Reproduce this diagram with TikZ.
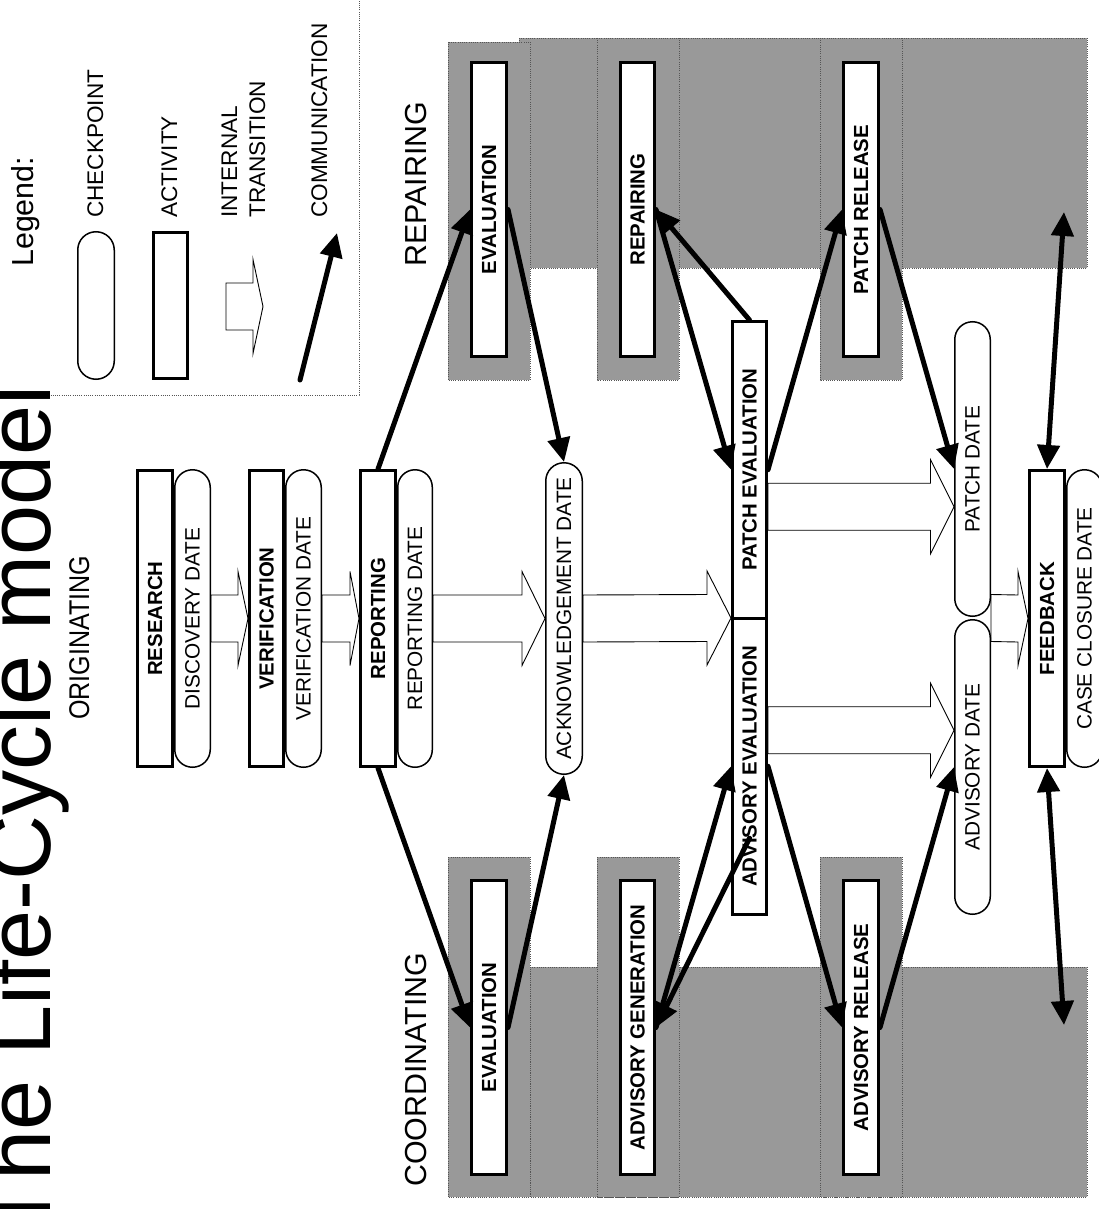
\documentclass[tikz,border=0pt]{standalone}
\usepackage{fontspec}
\setmainfont{Liberation Sans}
\newfontfamily\narrowsans[FakeStretch=0.88]{Liberation Sans}
\usetikzlibrary{arrows.meta,calc,shapes.misc}
\definecolor{lanegray}{HTML}{999999}
\definecolor{laneedge}{HTML}{555555}
\pgfdeclarelayer{lanes}
\pgfdeclarelayer{back}
\pgfsetlayers{lanes,back,main}
\tikzset{
  lane/.style={fill=lanegray, draw=laneedge, dash pattern=on 1pt off 1.2pt, line width=0.8pt},
  legendedge/.style={draw=laneedge, dash pattern=on 1pt off 1.2pt, line width=0.8pt},
  actbox/.style={draw, line width=3pt, fill=white, rotate=90, inner sep=0pt,
    minimum width=296pt, minimum height=35pt, font=\fontsize{20.4}{24}\selectfont\bfseries},
  chkbox/.style={rounded rectangle, draw, line width=1.5pt, fill=white, rotate=90, inner sep=0pt,
    minimum width=297.5pt, minimum height=35.5pt, font=\fontsize{20.8}{24}\selectfont},
  comm/.style={line width=5pt, line cap=round, -{Triangle[length=24pt,width=22pt]}},
  commboth/.style={line width=5pt, {Triangle[length=24pt,width=22pt]}-{Triangle[length=24pt,width=22pt]}},
  trans/.style={draw=black, line width=0.9pt, fill=white, line join=miter},
  lbl/.style={rotate=90, anchor=base west, inner sep=0pt},
  sectfont/.style={font=\fontsize{30.4}{34}\selectfont},
  legfont/.style={font=\fontsize{22.6}{26}\selectfont}
}
\newcommand\transarr[3]{%
  \draw[trans] ($(#1)+(0,-23.5)$) -- ($(#2)+(-#3,-23.5)$) -- ($(#2)+(-#3,-47)$) -- (#2)
   -- ($(#2)+(-#3,47)$) -- ($(#2)+(-#3,23.5)$) -- ($(#1)+(0,23.5)$) -- cycle;}
\begin{document}
\begin{tikzpicture}[x=1pt,y=-1pt]
\useasboundingbox (0,0) rectangle (1099,1209);
\clip (0,0) rectangle (1099,1209);

% swimlanes
\begin{pgfonlayer}{lanes}
\path[lane] (519,38) rectangle (1087,268);
\path[lane] (448,42) rectangle (530,380);
\path[lane] (597,38) rectangle (679,380);
\path[lane] (820,38) rectangle (902,380);
\path[lane] (530,967) rectangle (1087,1197);
\path[lane] (448,857) rectangle (530,1197);
\path[lane] (597,857) rectangle (679,1197);
\path[lane] (820,857) rectangle (902,1197);
\draw[legendedge] (0,395) -- (359,395) -- (359,0);
\end{pgfonlayer}

% titles
\node[lbl, font=\fontsize{90}{94}\selectfont] (title) at (50,1236) {The Life-Cycle model};
\node[lbl, font=\fontsize{28.5}{32}\selectfont\narrowsans] (orig) at (89,720) {ORIGINATING};
\node[lbl, sectfont] (repairlbl) at (426,267) {REPAIRING};
\node[lbl, sectfont] (coordlbl) at (426,1187) {COORDINATING};

% legend
\node[lbl, sectfont] (legendtitle) at (33,267) {Legend:};
\node[chkbox, minimum width=147.5pt, minimum height=36.5pt] (lgchk) at (96,305.5) {};
\node[lbl, legfont] (lgchktxt) at (103,218) {CHECKPOINT};
\node[actbox, minimum width=146pt, minimum height=34pt] (lgact) at (170.5,305.5) {};
\node[lbl, legfont] (lgacttxt) at (177,218) {ACTIVITY};
\node[lbl, legfont] (lgint1) at (237,218) {INTERNAL};
\node[lbl, legfont] (lgint2) at (265,218) {TRANSITION};
\node[lbl, legfont] (lgcommtxt) at (327,218) {COMMUNICATION};
\coordinate (lgt0) at (226,306.5);
\coordinate (lgt1) at (263,306.5);
\coordinate (lgc0) at (300,380);
\coordinate (lgc1) at (337,233);

% originating
\node[chkbox] (disc) at (192.5,618.5) {DISCOVERY DATE};
\node[actbox] (research) at (155,618.5) {RESEARCH};
\node[chkbox] (verdate) at (303.5,618.5) {VERIFICATION DATE};
\node[actbox, minimum height=34pt] (verif) at (266.5,618.5) {VERIFICATION};
\node[chkbox, minimum height=34.5pt] (repdate) at (415,618.5) {REPORTING DATE};
\node[actbox] (reporting) at (378,618.5) {REPORTING};
\node[chkbox, minimum width=311.5pt, minimum height=36.5pt] (ack) at (564,618.5) {ACKNOWLEDGEMENT DATE};

% repairing lane
\node[actbox, minimum width=294pt] (evalr) at (489,209.5) {EVALUATION};
\node[actbox, minimum width=294pt, minimum height=34pt] (repairing) at (637.5,209.5) {REPAIRING};
\node[actbox, minimum width=294pt] (patchrel) at (861,209.5) {PATCH RELEASE};

% coordinating lane
\node[actbox, minimum width=294pt] (evalc) at (489,1027.5) {EVALUATION};
\node[actbox, minimum width=294pt, minimum height=34pt] (advgen) at (637.5,1027.5) {ADVISORY GENERATION};
\node[actbox, minimum width=294pt] (advrel) at (861,1027.5) {ADVISORY RELEASE};

% center
\node[actbox, minimum width=296.5pt, minimum height=34pt] (patcheval) at (749.5,469.75) {PATCH EVALUATION};
\node[actbox, minimum width=296.5pt, minimum height=34pt] (adveval) at (749.5,766.25) {ADVISORY EVALUATION};
\node[chkbox, minimum width=294.5pt] (patchdate) at (972.5,469) {PATCH DATE};
\node[chkbox, minimum width=294.5pt] (advdate) at (972.5,767) {ADVISORY DATE};
\node[chkbox] (closure) at (1084.5,618.5) {CASE CLOSURE DATE};
\node[actbox] (feedback) at (1047,618.5) {FEEDBACK};

\coordinate (evalsplit) at ($(patcheval.north west)!0.5!(adveval.north east)$);
\coordinate (t5a) at ($(patcheval.south)+(0,37)$);
\coordinate (t5b) at (patchdate.north |- t5a);
\coordinate (t6a) at ($(adveval.south)+(0,-36)$);
\coordinate (t6b) at (advdate.north |- t6a);
\coordinate (t7a) at ($(patchdate.south)!0.5!(advdate.south)$);
\coordinate (advx) at ($(adveval.east)!0.74!(adveval.west)$);
\coordinate (toplane) at (1064,212);
\coordinate (botlane) at (1064,1025);

% internal transitions
\begin{pgfonlayer}{back}
\transarr{lgt0}{lgt1}{10}
\transarr{disc.south}{verif.north}{10}
\transarr{verdate.south}{reporting.north}{9}
\transarr{repdate.south}{ack.north}{23}
\transarr{ack.south}{evalsplit}{24}
\transarr{t5a}{t5b}{23.5}
\transarr{t6a}{t6b}{23.5}
\transarr{t7a}{feedback.north}{10}
\end{pgfonlayer}

% communications
\draw[comm] (lgc0) -- (lgc1);
\draw[comm] (reporting.east) -- (evalr.north);
\draw[comm] (evalr.south) -- (ack.east);
\draw[comm] (repairing.south) -- (patcheval.north);
\draw[comm] (patcheval.east) -- (repairing.south);
\draw[comm] (patcheval.south) -- (patchrel.north);
\draw[comm] (patchrel.south) -- (patchdate.north);
\draw[commboth] (feedback.east) -- (toplane);
\draw[comm] (reporting.west) -- (evalc.north);
\draw[comm] (evalc.south) -- (ack.west);
\draw[comm] (advgen.south) -- (adveval.north);
\draw[comm] (advx) -- (advgen.south);
\draw[comm] (adveval.south) -- (advrel.north);
\draw[comm] (advrel.south) -- (advdate.north);
\draw[commboth] (feedback.west) -- (botlane);
\end{tikzpicture}
\end{document}
